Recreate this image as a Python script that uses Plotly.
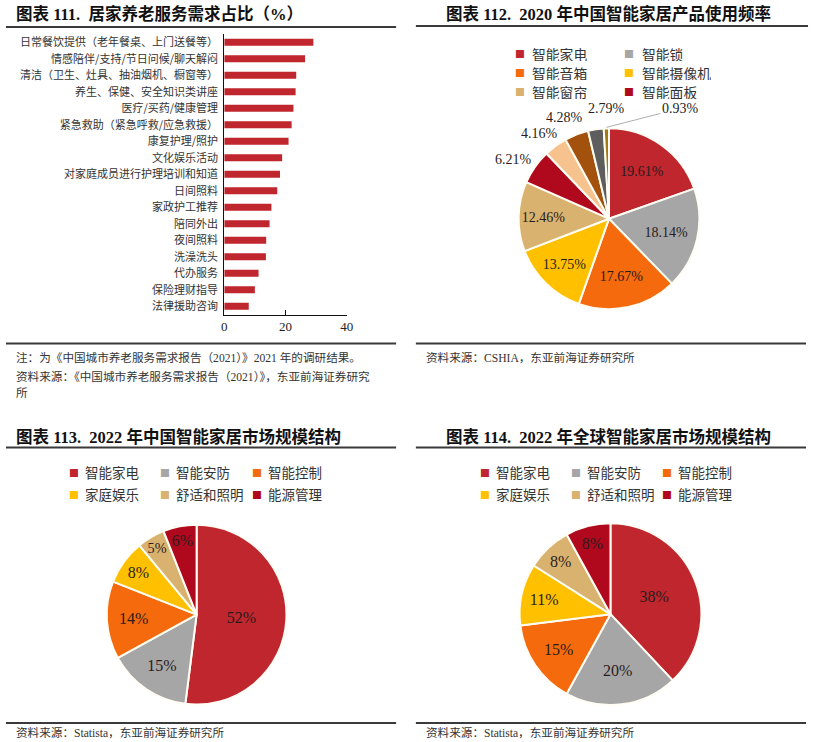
import math
import plotly.graph_objects as go

W, H = 817, 742
FONT = "Liberation Serif, Noto Sans CJK SC"
CJK = "Noto Sans CJK SC, Liberation Serif"

# ---------------- data ----------------
bar_categories = [
    "日常餐饮提供（老年餐桌、上门送餐等）",
    "情感陪伴/支持/节日问候/聊天解闷",
    "清洁（卫生、灶具、抽油烟机、橱窗等）",
    "养生、保健、安全知识类讲座",
    "医疗/买药/健康管理",
    "紧急救助（紧急呼救/应急救援）",
    "康复护理/照护",
    "文化娱乐活动",
    "对家庭成员进行护理培训和知道",
    "日间照料",
    "家政护工推荐",
    "陪同外出",
    "夜间照料",
    "洗澡洗头",
    "代办服务",
    "保险理财指导",
    "法律援助咨询",
]
bar_values = [29.1, 26.4, 23.5, 23.3, 22.6, 22.0, 21.0, 18.9, 18.2, 17.3,
              15.4, 14.8, 13.7, 13.6, 11.2, 10.0, 8.0]
bar_ticks = [0, 20, 40]

freq_labels = ["智能家电", "智能锁", "智能音箱", "智能摄像机", "智能窗帘", "智能面板",
               "其他产品A", "其他产品B", "其他产品C", "其他产品D"]
freq_values = [19.61, 18.14, 17.67, 13.75, 12.46, 6.21, 4.16, 4.28, 2.79, 0.93]

market_labels = ["智能家电", "智能安防", "智能控制", "家庭娱乐", "舒适和照明", "能源管理"]
china_values = [52, 15, 14, 8, 5, 6]
global_values = [38, 20, 15, 11, 8, 8]

# ---------------- styles ----------------
BAR_COLOR = "#C0262E"
freq_colors = ["#C0262E", "#A6A6A6", "#F46A0C", "#FFC000", "#D8B26E", "#B0091E",
               "#F6C28E", "#A3520E", "#5E5E5E", "#A07A10"]
market_colors = ["#C0262E", "#A6A6A6", "#F46A0C", "#FFC000", "#D8B26E", "#B0091E"]
EDGE = "#FFFDF4"
LABEL_COLOR = "#2a1c1c"
# pixel nudges for the outside labels (label placement only)
label_nudge = {5: (-5, 5), 6: (-4, 5), 7: (-5, 4), 8: (14, 1)}


def px(x):
    return x / W


def py(y):
    return 1 - y / H


fig = go.Figure()

# ---- bar chart ----
fig.add_trace(go.Bar(
    x=bar_values, y=bar_categories, orientation="h",
    marker=dict(color=BAR_COLOR, line=dict(width=0)),
    width=0.42, showlegend=False, hoverinfo="x+y",
))


# ---- pies ----
def pie(labels, values, colors, cx, cy, r, tmpl, size, positions):
    return go.Pie(
        labels=labels, values=values, sort=False, direction="clockwise",
        rotation=0,
        marker=dict(colors=colors, line=dict(color=EDGE, width=2)),
        texttemplate=tmpl, insidetextorientation="horizontal",
        textposition=positions,
        textfont=dict(family=FONT, size=size, color=LABEL_COLOR),
        domain=dict(x=[px(cx - r), px(cx + r)], y=[py(cy + r), py(cy - r)]),
        showlegend=False,
    )


TR_CX, TR_CY, TR_R = 613.5, 218, 91.5
freq_pos = ["inside"] * 5 + ["none"] * 5
fig.add_trace(pie(freq_labels, freq_values, freq_colors, TR_CX, TR_CY, TR_R,
                  "%{value:.2f}%", 14, freq_pos))
fig.add_trace(pie(market_labels, china_values, market_colors, 196, 614.5, 91,
                  "%{value}%", 16, "inside"))
fig.add_trace(pie(market_labels, global_values, market_colors, 615, 614, 92,
                  "%{value}%", 16, "inside"))

annotations = []
shapes = []


def text(x, y, s, size, color="#222", anchor="left", family=FONT, height=None):
    a = dict(
        x=px(x), y=py(y), xref="paper", yref="paper", text=s, showarrow=False,
        xanchor=anchor, yanchor="middle",
        font=dict(family=family, size=size, color=color),
    )
    if height is not None:
        a["height"] = height
    annotations.append(a)


def hline(x0, x1, y, w=2, color="#3a3a3a"):
    shapes.append(dict(type="line", xref="paper", yref="paper",
                       x0=px(x0), x1=px(x1), y0=py(y), y1=py(y),
                       line=dict(color=color, width=w)))


# outside labels of the small slices, placed radially from the slice mid-angle
total = sum(freq_values)
cum = 0.0
for i, v in enumerate(freq_values):
    mid = (cum + v / 2) / total
    cum += v
    if freq_pos[i] != "none":
        continue
    th = 2 * math.pi * mid
    s = f"{v:.2f}%"
    if i == len(freq_values) - 1:
        ex = TR_CX + TR_R * math.sin(th)
        ey = TR_CY - TR_R * math.cos(th)
        annotations.append(dict(
            x=px(ex), y=py(ey), xref="paper", yref="paper", text=s,
            showarrow=True, arrowhead=0, arrowwidth=0.8, arrowcolor="#9a9a9a",
            ax=74, ay=-19, standoff=0,
            font=dict(family=FONT, size=14, color=LABEL_COLOR),
        ))
    else:
        R = TR_R + 21
        dx, dy = label_nudge.get(i, (0, 0))
        text(TR_CX + R * math.sin(th) + dx, TR_CY - R * math.cos(th) + dy, s, 14,
             LABEL_COLOR, "center", height=17)

# titles
TS = 16.5
text(11, 13, "<b>图表 111.  居家养老服务需求占比（%）</b>", TS, "#111")
text(613, 13, "<b>图表 112.  2020 年中国智能家居产品使用频率</b>", TS, "#111", "center")
text(11, 437, "<b>图表 113.  2022 年中国智能家居市场规模结构</b>", TS, "#111")
text(613, 437, "<b>图表 114.  2022 年全球智能家居市场规模结构</b>", TS, "#111", "center")

hline(3, 398, 26)
hline(418, 815, 25)
hline(3, 398, 343)
hline(418, 813, 343)
hline(3, 398, 447)
hline(418, 813, 447)
hline(3, 398, 723)
hline(418, 813, 723)

# notes and sources
NOTE = "#333"
NS = 11.6
text(11, 357, "注：为《中国城市养老服务需求报告（2021）》2021 年的调研结果。", NS, NOTE)
text(11, 377, "资料来源：《中国城市养老服务需求报告（2021）》，东亚前海证券研究", NS, NOTE)
text(11, 393, "所", NS, NOTE)
text(426, 357, "资料来源：CSHIA，东亚前海证券研究所", NS, NOTE)
text(11, 733, "资料来源：Statista，东亚前海证券研究所", NS, NOTE)
text(426, 733, "资料来源：Statista，东亚前海证券研究所", NS, NOTE)


def legend_item(x, y, name, color, size, gap, height=None):
    text(x, y, "■", 10, color, "center", CJK, height=12)
    text(x + gap, y, name, size, "#333", "left", CJK, height=height)


# top-right legend
cols = [523, 634]
rows = [52.5, 71.5, 90.5]
for i in range(6):
    legend_item(cols[i % 2], rows[i // 2], freq_labels[i], freq_colors[i], 13.8,
                11, height=15)

# bottom legends
for base_cols in ([72, 164, 257], [488, 580, 672]):
    for i in range(6):
        legend_item(base_cols[i % 3], [472, 494][i // 3], market_labels[i],
                    market_colors[i], 13.5, 9)

fig.update_layout(
    width=W, height=H, margin=dict(l=0, r=0, t=0, b=0),
    paper_bgcolor="white", plot_bgcolor="white",
    font=dict(family=FONT, color="#222"),
    annotations=annotations, shapes=shapes,
    xaxis=dict(domain=[px(224), px(348)], range=[0, 40], tickvals=bar_ticks,
               showgrid=False, zeroline=False, showline=True, linecolor="#111",
               linewidth=1, ticks="inside", ticklen=5, tickcolor="#111",
               tickfont=dict(family=FONT, size=13, color="#222"), fixedrange=True),
    yaxis=dict(domain=[py(314), py(33)], type="category",
               categoryorder="array", categoryarray=bar_categories,
               range=[len(bar_categories) - 0.5, -0.5],
               showgrid=False, zeroline=False, showline=True, linecolor="#111",
               linewidth=1, ticks="", ticklabelstandoff=3,
               tickfont=dict(family=CJK, size=11, color="#333"), fixedrange=True),
    bargap=0.5,
)

fig.write_html("out.html")
